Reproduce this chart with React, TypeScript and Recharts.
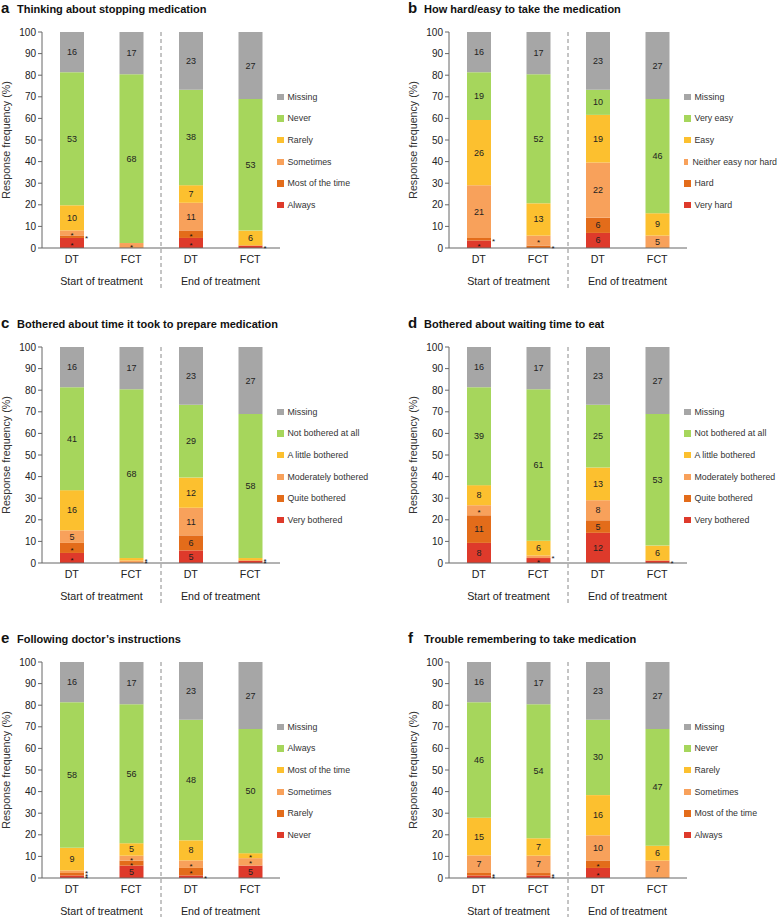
import React from "react";
import { BarChart, Bar, XAxis, YAxis, LabelList, Legend, ReferenceArea } from "recharts";

// ---- shared axis data ----
const categories = ["DT", "FCT", "DT", "FCT"];
const ids = ["start-DT", "start-FCT", "end-DT", "end-FCT"];
const timepoints = ["Start of treatment", "Start of treatment", "End of treatment", "End of treatment"];
const yTicks = [0, 10, 20, 30, 40, 50, 60, 70, 80, 90, 100];
const yAxisTitle = "Response frequency (%)";

// ---- panel a ----
const aTitle = "Thinking about stopping medication";
const aResponses = ["Always", "Most of the time", "Sometimes", "Rarely", "Never", "Missing"];
const aCounts = [
  [4, 0, 4, 1],
  [1, 0, 3, 0],
  [2, 2, 11, 0],
  [10, 0, 7, 6],
  [53, 68, 38, 53],
  [16, 17, 23, 27],
];

// ---- panel b ----
const bTitle = "How hard/easy to take the medication";
const bResponses = ["Very hard", "Hard", "Neither easy nor hard", "Easy", "Very easy", "Missing"];
const bCounts = [
  [3, 0, 6, 0],
  [1, 1, 6, 0],
  [21, 4, 22, 5],
  [26, 13, 19, 9],
  [19, 52, 10, 46],
  [16, 17, 23, 27],
];

// ---- panel c ----
const cTitle = "Bothered about time it took to prepare medication";
const cResponses = ["Very bothered", "Quite bothered", "Moderately bothered", "A little bothered", "Not bothered at all", "Missing"];
const cCounts = [
  [4, 0, 5, 1],
  [4, 0, 6, 0],
  [5, 1, 11, 0],
  [16, 1, 12, 1],
  [41, 68, 29, 58],
  [16, 17, 23, 27],
];

// ---- panel d ----
const dTitle = "Bothered about waiting time to eat";
const dResponses = ["Very bothered", "Quite bothered", "Moderately bothered", "A little bothered", "Not bothered at all", "Missing"];
const dCounts = [
  [8, 2, 12, 1],
  [11, 0, 5, 0],
  [4, 1, 8, 0],
  [8, 6, 13, 6],
  [39, 61, 25, 53],
  [16, 17, 23, 27],
];

// ---- panel e ----
const eTitle = "Following doctor\u2019s instructions";
const eResponses = ["Never", "Rarely", "Sometimes", "Most of the time", "Always", "Missing"];
const eCounts = [
  [1, 5, 1, 5],
  [1, 2, 3, 0],
  [1, 2, 3, 3],
  [9, 5, 8, 2],
  [58, 56, 48, 50],
  [16, 17, 23, 27],
];

// ---- panel f ----
const fTitle = "Trouble remembering to take medication";
const fResponses = ["Always", "Most of the time", "Sometimes", "Rarely", "Never", "Missing"];
const fCounts = [
  [1, 1, 4, 0],
  [1, 1, 3, 0],
  [7, 7, 10, 7],
  [15, 7, 16, 6],
  [46, 54, 30, 47],
  [16, 17, 23, 27],
];

const segmentColors = ["#de3a2b", "#e36c1a", "#f8a15b", "#fcc02f", "#a6d65c", "#a6a6a6"];
const FONT = "'Liberation Sans', Arial, Helvetica, sans-serif";

const renderSegLabel = (props: any) => {
  const vb = props.viewBox && props.viewBox.width !== undefined ? props.viewBox : props;
  const { x, y, width, height } = vb;
  const v = Number(props.value);
  if (!v || x === undefined) return null;
  const top = Math.min(y, y + height);
  const h = Math.abs(height);
  const cy = top + h / 2;
  if (v >= 5) {
    return (
      <text x={x + width / 2} y={cy} textAnchor="middle" dominantBaseline="central" fontSize={9} fill="#222" fontFamily={FONT}>
        {v}
      </text>
    );
  }
  const sx = v >= 2 ? x + width / 2 : x + width + 2.5;
  return (
    <text x={sx} y={cy + 4.6} textAnchor="middle" fontSize={8} fill="#111" fontFamily={FONT}>
      *
    </text>
  );
};

const YLabel = (props: any) => {
  const vb = props.viewBox || {};
  const cx = (vb.x ?? 12) - 6;
  const cy = (vb.y ?? 32) + (vb.height ?? 216) / 2;
  return (
    <text x={cx} y={cy} transform={`rotate(-90 ${cx} ${cy})`} textAnchor="middle" dominantBaseline="central" fontSize={10.7} fill="#333" fontFamily={FONT}>
      {yAxisTitle}
    </text>
  );
};

const Divider = (p: any) => (
  <line x1={p.x} y1={p.y} x2={p.x} y2={p.y + p.height + 42} stroke="#8a8a8a" strokeWidth={1} strokeDasharray="4 3" />
);

type PanelProps = {
  left: number;
  top: number;
  letter: string;
  title: string;
  responses: string[];
  counts: number[][];
};

function Panel({ left, top, letter, title, responses, counts }: PanelProps) {
  const data = ids.map((id, i) => {
    const row: any = { id, time: timepoints[i] };
    responses.forEach((_, s) => {
      row[`s${s}`] = counts[s][i];
    });
    return row;
  });

  const legendContent = (props: any) => {
    const payload = [...(props.payload || [])];
    payload.sort((p1: any, p2: any) => responses.indexOf(p2.value) - responses.indexOf(p1.value));
    return (
      <div style={{ fontFamily: FONT }}>
        {payload.map((it: any) => (
          <div key={it.value} style={{ display: "flex", alignItems: "center", height: 21.67, whiteSpace: "nowrap" }}>
            <span style={{ display: "inline-block", width: 6.5, height: 6.5, background: it.color, marginRight: 4 }} />
            <span style={{ fontSize: 8.8, color: "#333" }}>{it.value}</span>
          </div>
        ))}
      </div>
    );
  };

  return (
    <div style={{ position: "absolute", left, top, width: 370, height: 300 }}>
      <div style={{ position: "absolute", left: 1, top: -1, display: "flex", alignItems: "baseline", whiteSpace: "nowrap", color: "#111", zIndex: 2 }}>
        <span style={{ fontSize: 15, fontWeight: 700, width: 16 }}>{letter}</span>
        <span style={{ fontSize: 11, fontWeight: 700 }}>{title}</span>
      </div>
      <BarChart
        width={370}
        height={300}
        data={data}
        stackOffset="expand"
        barSize={24}
        margin={{ top: 32, right: 90, bottom: 4, left: 12 }}
      >
        <XAxis
          dataKey="id"
          tickFormatter={(v: any) => categories[ids.indexOf(v)]}
          axisLine={{ stroke: "#666" }}
          tickLine={false}
          tickSize={5}
          tickMargin={2}
          height={24}
          interval={0}
          tick={{ fontSize: 10.7, fill: "#222" }}
        />
        <XAxis
          xAxisId="grp"
          dataKey="time"
          allowDuplicatedCategory={false}
          axisLine={false}
          tickLine={false}
          tickSize={3}
          tickMargin={2}
          height={24}
          interval={0}
          tick={{ fontSize: 10.7, fill: "#222" }}
        />
        <YAxis
          domain={[0, 1]}
          ticks={yTicks.map((t) => t / 100)}
          tickFormatter={(v: number) => String(Math.round(v * 100))}
          width={30}
          axisLine={{ stroke: "#666" }}
          tickLine={{ stroke: "#666" }}
          tickSize={4}
          tickMargin={2}
          tick={{ fontSize: 10, fill: "#222" }}
          label={{ content: YLabel }}
        />
        <ReferenceArea x1="end-DT" x2="end-FCT" ifOverflow="visible" shape={Divider} />
        {responses.map((r, s) => (
          <Bar key={r} dataKey={`s${s}`} name={r} stackId="a" fill={segmentColors[s]} isAnimationActive={false}>
            <LabelList dataKey={`s${s}`} content={renderSegLabel} />
          </Bar>
        ))}
        <Legend
          layout="vertical"
          align="center"
          verticalAlign="middle"
          wrapperStyle={{ left: 277, top: 86, width: 93 }}
          content={legendContent}
        />
      </BarChart>
    </div>
  );
}

export default function App() {
  return (
    <div style={{ position: "absolute", left: 0, top: 0, width: 777, height: 917, background: "#fff", fontFamily: FONT }}>
      <Panel left={0} top={0} letter="a" title={aTitle} responses={aResponses} counts={aCounts} />
      <Panel left={407} top={0} letter="b" title={bTitle} responses={bResponses} counts={bCounts} />
      <Panel left={0} top={315} letter="c" title={cTitle} responses={cResponses} counts={cCounts} />
      <Panel left={407} top={315} letter="d" title={dTitle} responses={dResponses} counts={dCounts} />
      <Panel left={0} top={630} letter="e" title={eTitle} responses={eResponses} counts={eCounts} />
      <Panel left={407} top={630} letter="f" title={fTitle} responses={fResponses} counts={fCounts} />
    </div>
  );
}
